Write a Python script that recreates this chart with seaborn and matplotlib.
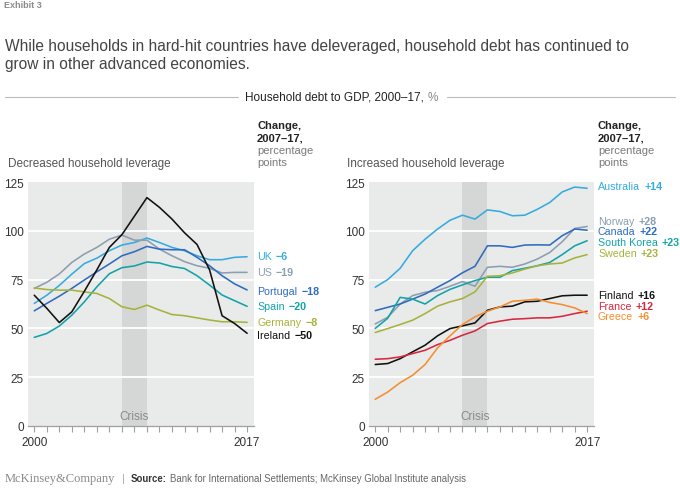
import matplotlib
matplotlib.use("Agg")
import matplotlib.pyplot as plt
import numpy as np
import pandas as pd
import seaborn as sns
from matplotlib.lines import Line2D

# ---------------- data ----------------
years = list(range(2000, 2018))

# Decreased household leverage
uk = [62.8, 67, 72, 77.8, 83.2, 86, 89.8, 92.7, 94, 96.3, 94, 91.5, 89.8, 87.2, 85.2, 85.2, 86.4, 86.7]
us = [70.5, 73.6, 77.9, 83.8, 88.1, 91.5, 95.7, 97.8, 95.2, 95.2, 90.6, 87.2, 84.2, 82.1, 80.8, 78.4, 78.7, 78.7]
portugal = [59, 62.8, 66.5, 70.5, 74.8, 79, 83, 87.2, 89.3, 92, 90.6, 90.3, 90.3, 86.4, 82.1, 77, 72.8, 69.7]
spain = [45.4, 47.4, 51.2, 56.8, 63.6, 71.3, 78, 81.1, 82, 84, 83.5, 81.7, 80.7, 77, 72.2, 67.1, 64.2, 61.3]
germany = [70.7, 69.9, 69.6, 69.6, 68.7, 67.9, 65.3, 61.1, 59.7, 61.9, 59.4, 57.1, 56.5, 55.4, 54.3, 53.4, 53.4, 53.1]
ireland = [67, 60.3, 53, 58.5, 69, 80, 91.5, 98, 107.5, 117, 112, 106, 99, 93, 80, 56.5, 52.5, 47.5]

# Increased household leverage
australia = [71.1, 75, 80.8, 89.8, 95.7, 100.9, 105.4, 108, 106, 110.7, 109.9, 107.7, 108, 111, 114.5, 119.9, 122.4, 121.8]
norway = [52.3, 55.7, 62.5, 66.8, 68.5, 69.4, 71.6, 74, 71.6, 81.3, 81.8, 81.3, 83, 85.5, 88.9, 94.4, 101.2, 102.2]
canada = [59.1, 60.8, 62.5, 65, 67.6, 71.1, 74.5, 78.5, 81.8, 92.3, 92.3, 91.5, 92.7, 92.8, 92.7, 97.5, 100.9, 100.3]
south_korea = [50, 55.2, 65.9, 65, 62.5, 66.8, 70, 72.3, 74.5, 76.2, 76.2, 79.6, 80.8, 82.1, 83.8, 87.8, 92.3, 94.9]
sweden = [47.9, 49.9, 52, 54.2, 57.6, 61.4, 63.6, 65.3, 68.7, 76.7, 77, 78.4, 80.4, 82.1, 83, 83.5, 86.1, 87.8]
finland = [31.5, 32, 34.5, 38, 41.4, 46.2, 49.9, 51.3, 52.8, 59.3, 61, 61.4, 63.6, 63.9, 65.3, 66.7, 67, 67]
france = [34.2, 34.5, 35.4, 37.1, 38.8, 41.7, 43.9, 46.5, 48.7, 52.5, 53.7, 54.7, 55, 55.4, 55.4, 56.2, 57.6, 58.8]
greece = [13.7, 17.4, 22.2, 26, 31.5, 40, 46.2, 52, 55.9, 58.8, 61, 63.9, 64.4, 65, 63.3, 62.2, 60.5, 57.6]

left_names = ["UK", "US", "Portugal", "Spain", "Germany", "Ireland"]
left_changes = ["\u22126", "\u221219", "\u221218", "\u221220", "\u22128", "\u221250"]
right_names = ["Australia", "Norway", "Canada", "South Korea", "Sweden", "Finland", "France", "Greece"]
right_changes = ["+14", "+28", "+22", "+23", "+23", "+16", "+12", "+6"]

y_ticks = [0, 25, 50, 75, 100, 125]
x_labels = [2000, 2017]

# ---------------- style ----------------
C_LBLUE = "#35ABDE"
C_GRAY = "#8C9EB0"
C_BLUE = "#2E6CBF"
C_TEAL = "#12A3A8"
C_OLIVE = "#A6B33A"
C_BLACK = "#111111"
C_RED = "#D8283E"
C_ORANGE = "#F68E2E"

left_colors = [C_LBLUE, C_GRAY, C_BLUE, C_TEAL, C_OLIVE, C_BLACK]
right_colors = [C_LBLUE, C_GRAY, C_BLUE, C_TEAL, C_OLIVE, C_BLACK, C_RED, C_ORANGE]

sns.set_theme(style="white")
plt.rcParams["font.family"] = ["Liberation Sans", "DejaVu Sans"]

W, H = 680, 489
fig = plt.figure(figsize=(W / 100, H / 100), dpi=100)
fig.patch.set_facecolor("white")


def fx(x):
    return x / W


def fy(y):
    return 1 - y / H


left_df = pd.DataFrame({
    "year": years * 6,
    "value": uk + us + portugal + spain + germany + ireland,
    "country": sum([[n] * len(years) for n in left_names], []),
})
right_df = pd.DataFrame({
    "year": years * 8,
    "value": australia + norway + canada + south_korea + sweden + finland + france + greece,
    "country": sum([[n] * len(years) for n in right_names], []),
})

ax1 = fig.add_axes([fx(28), fy(427), 226 / W, 244 / H])
ax2 = fig.add_axes([fx(369), fy(427), 225 / W, 244 / H])

for ax, df, names, colors in [(ax1, left_df, left_names, left_colors),
                              (ax2, right_df, right_names, right_colors)]:
    ax.set_facecolor("#E9EAEA")
    ax.axvspan(2007, 2009, color="#D5D6D6", zorder=0.5, lw=0)
    for g in [25, 50, 75, 100]:
        ax.axhline(g, color="white", lw=1.3, zorder=0.8)
    pal = dict(zip(names, colors))
    sns.lineplot(data=df, x="year", y="value", hue="country", hue_order=names,
                 palette=pal, ax=ax, legend=False, linewidth=1.15, zorder=3)
    ax.set_xlim(1999.5, 2017.55)
    ax.set_ylim(0, 125)
    ax.set_xlabel("")
    ax.set_ylabel("")
    for s in ["top", "right", "left"]:
        ax.spines[s].set_visible(False)
    ax.spines["bottom"].set_color("#A0A0A0")
    ax.spines["bottom"].set_linewidth(0.9)
    ax.set_yticks(y_ticks)
    ax.set_yticklabels([str(t) for t in y_ticks])
    ax.tick_params(axis="y", length=0, pad=3, labelsize=8.5, labelcolor="#333333")
    ax.set_xticks(years)
    ax.set_xticklabels([str(y) if y in x_labels else "" for y in years])
    ax.tick_params(axis="x", length=4.5, width=0.8, color="#A0A0A0", pad=3,
                   labelsize=8.5, labelcolor="#333333", direction="out", bottom=True)
    ax.grid(False)
    ax.text(2008, 5, "Crisis", ha="center", va="center", fontsize=8.5, color="#8A8A8A")

# ---------------- texts ----------------
fig.text(fx(4), fy(6), "Exhibit 3", fontsize=6.5, color="#8A8A8A", fontweight="bold",
         ha="left", va="center")
fig.text(fx(5), fy(46), "While households in hard-hit countries have deleveraged, household debt has continued to",
         fontsize=11.2, color="#444444", ha="left", va="center")
fig.text(fx(5), fy(64), "grow in other advanced economies.",
         fontsize=11.2, color="#444444", ha="left", va="center")

sub = fig.text(fx(245), fy(98), "Household debt to GDP, 2000\u201317, ", fontsize=8.5,
               color="#222222", ha="left", va="center")
fig.canvas.draw()
bb = sub.get_window_extent()
fig.text(bb.x1 / W, fy(98), "%", fontsize=8.5, color="#888888", ha="left", va="center")
fig.add_artist(Line2D([fx(5), fx(238)], [fy(98), fy(98)], color="#BBBBBB", lw=0.8))
fig.add_artist(Line2D([fx(447), fx(675)], [fy(98), fy(98)], color="#BBBBBB", lw=0.8))

fig.text(fx(8), fy(164), "Decreased household leverage", fontsize=8.5, color="#555555",
         ha="left", va="center")
fig.text(fx(347), fy(164), "Increased household leverage", fontsize=8.5, color="#555555",
         ha="left", va="center")

for hx in [257, 598]:
    fig.text(fx(hx), fy(126), "Change,", fontsize=8, color="#222222", fontweight="bold",
             ha="left", va="center")
    fig.text(fx(hx), fy(138.5), "2007\u201317,", fontsize=8, color="#222222", fontweight="bold",
             ha="left", va="center")
    fig.text(fx(hx), fy(151.5), "percentage", fontsize=8, color="#7A7A7A",
             ha="left", va="center")
    fig.text(fx(hx), fy(163.5), "points", fontsize=8, color="#7A7A7A",
             ha="left", va="center")

left_label_y = [257.5, 273, 292, 307.5, 323.5, 336.5]
right_label_y = [187, 222, 232.5, 243.5, 254.5, 296, 307, 317.5]


def put_labels(x0, names, changes, colors, ys):
    for n, c, col, yy in zip(names, changes, colors, ys):
        t = fig.text(fx(x0), fy(yy), n, fontsize=7.7, color=col, ha="left", va="center")
        fig.canvas.draw()
        b = t.get_window_extent()
        fig.text((b.x1 + 4) / W, fy(yy), c, fontsize=7.7, color=col,
                 fontweight="bold", ha="left", va="center")


put_labels(257, left_names, left_changes, left_colors, left_label_y)
put_labels(598, right_names, right_changes, right_colors, right_label_y)

# footer
fig.text(fx(5), fy(479), "McKinsey&Company", fontsize=9, color="#8A8A8A",
         family=["Liberation Serif", "DejaVu Serif"], ha="left", va="center")
fig.text(fx(122), fy(479), "|", fontsize=8, color="#AAAAAA", ha="left", va="center")
src = fig.text(fx(131), fy(479), "Source:", fontsize=6.9, color="#333333", fontweight="bold",
               ha="left", va="center")
fig.canvas.draw()
b = src.get_window_extent()
fig.text((b.x1 + 3) / W, fy(479), "Bank for International Settlements; McKinsey Global Institute analysis",
         fontsize=6.9, color="#666666", ha="left", va="center")

fig.savefig("out.png", dpi=100, facecolor="white")
